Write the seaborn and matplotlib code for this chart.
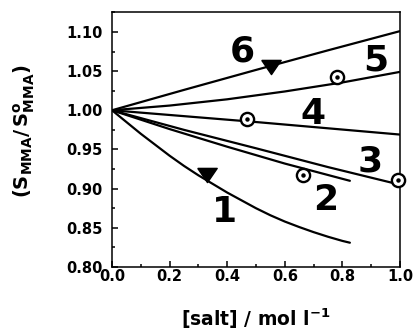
import matplotlib
matplotlib.use("Agg")
import matplotlib.pyplot as plt
import seaborn as sns
import pandas as pd
import numpy as np
from matplotlib.ticker import MultipleLocator

# ---- data ----
curve_names = ["1", "2", "3", "4", "5", "6"]
x1 = [0.0, 0.05, 0.1, 0.15, 0.2, 0.25, 0.3, 0.35, 0.4, 0.45, 0.5, 0.55,
      0.6, 0.65, 0.7, 0.75, 0.8, 0.826]
y1 = [1.0, 0.985, 0.970, 0.956, 0.942, 0.929, 0.917, 0.906, 0.895, 0.885,
      0.875, 0.866, 0.858, 0.851, 0.8445, 0.8386, 0.8333, 0.831]
x2 = [0.0, 0.2, 0.4, 0.6, 0.826]
y2 = [1.0, 0.976, 0.9535, 0.932, 0.910]
x3 = [0.0, 0.25, 0.5, 0.75, 1.0]
y3 = [1.0, 0.975, 0.9515, 0.9275, 0.905]
x4 = [0.0, 0.5, 1.0]
y4 = [1.0, 0.985, 0.969]
x5 = [0.0, 0.2, 0.4, 0.6, 0.8, 1.0]
y5 = [1.0, 1.006, 1.014, 1.024, 1.0355, 1.049]
x6 = [0.0, 0.25, 0.5, 0.75, 1.0]
y6 = [1.0, 1.026, 1.0515, 1.0765, 1.101]

# marker points
tri_x = [0.331, 0.552]
tri_y = [0.918, 1.0555]
circ_x = [0.662, 0.992, 0.468, 0.783]
circ_y = [0.9173, 0.911, 0.9884, 1.0427]

# curve label positions
label_x = [0.392, 0.743, 0.896, 0.699, 0.916, 0.453]
label_y = [0.8705, 0.885, 0.934, 0.995, 1.064, 1.0746]

xticks = [0.0, 0.2, 0.4, 0.6, 0.8, 1.0]
yticks = [0.80, 0.85, 0.90, 0.95, 1.00, 1.05, 1.10]

xs = [x1, x2, x3, x4, x5, x6]
ys = [y1, y2, y3, y4, y5, y6]
df = pd.concat([pd.DataFrame({"x": xv, "y": yv, "curve": n})
                for n, xv, yv in zip(curve_names, xs, ys)], ignore_index=True)

sns.set_theme(style="ticks")
plt.rcParams["font.family"] = ["DejaVu Sans"]
plt.rcParams["mathtext.fontset"] = "dejavusans"

fig = plt.figure(figsize=(4.13, 3.33), dpi=100)
ax = fig.add_axes([0.2712, 0.1982, 0.6973, 0.7648])

sns.lineplot(data=df, x="x", y="y", hue="curve", sort=False,
             palette={n: "black" for n in curve_names}, linewidth=1.6,
             legend=False, ax=ax)

tri_marker = [(-1, 0.73), (1, 0.73), (0, -0.73), (-1, 0.73)]
ax.plot(tri_x, tri_y, linestyle="none", marker=tri_marker, markersize=14,
        color="black", clip_on=False, zorder=5)
ax.plot(circ_x, circ_y, linestyle="none", marker="o", markersize=9.5,
        markerfacecolor="white", markeredgecolor="black", markeredgewidth=1.7,
        clip_on=False, zorder=5)
ax.plot(circ_x, circ_y, linestyle="none", marker="o", markersize=2.2,
        color="black", clip_on=False, zorder=6)

for n, lx, ly in zip(curve_names, label_x, label_y):
    ax.text(lx, ly, n, fontsize=26, fontweight="bold", ha="center",
            va="center", color="black")

ax.set_xlim(0.0, 1.0)
ax.set_ylim(0.80, 1.125)
ax.set_xticks(xticks)
ax.set_xticklabels([f"{v:.1f}" for v in xticks])
ax.set_yticks(yticks)
ax.set_yticklabels([f"{v:.2f}" for v in yticks])
ax.xaxis.set_minor_locator(MultipleLocator(0.1))
ax.yaxis.set_minor_locator(MultipleLocator(0.025))
ax.tick_params(which="both", direction="in", color="black", width=1.1)
ax.tick_params(which="major", length=4.5)
ax.tick_params(which="minor", length=2.5)
ax.tick_params(axis="y", which="major", pad=7, labelsize=10.5)
ax.tick_params(axis="x", which="major", pad=1.5, labelsize=10.5)
for lab in ax.get_xticklabels() + ax.get_yticklabels():
    lab.set_fontweight("bold")
    lab.set_color("black")
for sp in ax.spines.values():
    sp.set_visible(True)
    sp.set_linewidth(1.1)
    sp.set_color("black")

ax.set_xlabel(r"[salt] / mol l$^{\mathbf{-1}}$", fontsize=13.5,
              fontweight="bold", color="black")
ax.set_ylabel(r"$\mathbf{(S_{MMA}/\,S^{o}_{MMA})}$", fontsize=14,
              color="black")
ax.xaxis.set_label_coords(0.5, -0.155)
ax.yaxis.set_label_coords(-0.26, 0.532)

fig.savefig("out.png", dpi=100)
